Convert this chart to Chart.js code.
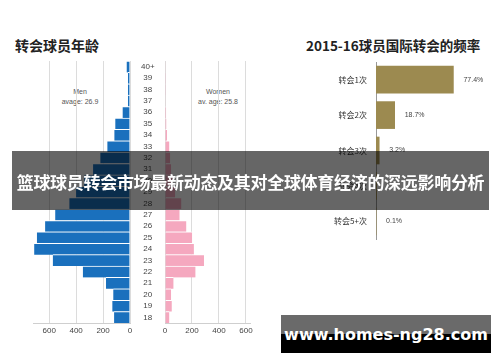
<!DOCTYPE html>
<html>
<head>
<meta charset="utf-8">
<script src="https://cdn.jsdelivr.net/npm/chart.js@4"></script>
<style>
  body { margin: 0; background: #fff; }
  #wrap { position: relative; width: 500px; height: 362px; overflow: hidden; background: #fff;
          font-family: "Noto Sans CJK SC", "Noto Sans", sans-serif; }
  canvas { position: absolute; }
  .title { position: absolute; font-weight: bold; color: #222; white-space: nowrap; }
  .note { position: absolute; font-family: "Liberation Sans Narrow", "Liberation Sans", sans-serif;
          font-size: 7px; color: #555; text-align: center; line-height: 10px; width: 60px; }
  #banner { position: absolute; left: 12px; top: 151px; width: 477px; height: 59px;
            background: rgba(0,0,0,0.6); color: #fff; font-weight: bold; font-size: 17px;
            text-align: center; line-height: 62px; white-space: nowrap; letter-spacing: -0.3px; }
  #mark { position: absolute; left: 281px; top: 315px; width: 210px; height: 38px;
          background: linear-gradient(#6a6a6a 0, #6a6a6a 50%, #000 50%, #000 100%);
          color: #fff; font-family: "DejaVu Sans", sans-serif; font-weight: bold; font-size: 16px;
          text-align: center; line-height: 40px; }
</style>
</head>
<body>
<div id="wrap">
  <div class="title" style="left:15px; top:35px; font-size:14px;">转会球员年龄</div>
  <div class="title" style="left:306px; top:35px; font-size:13.5px;">2015-16球员国际转会的频率</div>
  <div class="note" style="left:50px; top:87px;">Men<br>avage: 26.9</div>
  <div class="note" style="left:188px; top:87px;">Women<br>av. age: 25.8</div>

  <canvas id="menChart" width="165" height="340" style="left:0; top:0;"></canvas>
  <canvas id="womenChart" width="110" height="340" style="left:155px; top:0;"></canvas>
  <canvas id="transferChart" width="250" height="260" style="left:250px; top:0;"></canvas>

  <div id="banner">篮球球员转会市场最新动态及其对全球体育经济的深远影响分析</div>
  <div id="mark">www.homes-ng28.com</div>
</div>

<script>
// =================== data ===================

const ages = ['40+', '39', '38', '37', '36', '35', '34', '33', '32', '31', '30', '29',
              '28', '27', '26', '25', '24', '23', '22', '21', '20', '19', '18'];
const menCounts = [25, 15, 15, 15, 55, 109, 116, 168, 220, 274, 340, 400,
                   450, 555, 630, 691, 711, 573, 350, 178, 124, 131, 118];
const womenCounts = [3, 2, 2, 3, 8, 10, 15, 32, 38, 45, 55, 75,
                     121, 108, 158, 201, 214, 289, 226, 63, 45, 50, 32];
const ageTicks = [0, 200, 400, 600];

const transferLabels = ['转会1次', '转会2次', '转会3次', '转会4次', '转会5+次'];
const transferShares = [77.4, 18.7, 3.2, 0.6, 0.1];

const MEN_BLUE = '#1a70bd';
const WOMEN_PINK = '#f5a8bf';
const GOLD = '#9c8a50';
const GRID = '#dcdcdc';
const smallFont = { family: '"Liberation Sans Narrow", "Liberation Sans", sans-serif', size: 8 };

// fixed tick set for both halves of the pyramid
function fixTicks(scale) {
  scale.ticks = ageTicks.map(v => ({ value: v }));
}

// =================== men (left half) ===================
new Chart(document.getElementById('menChart'), {
  type: 'bar',
  data: {
    labels: ages,
    datasets: [{
      data: menCounts,
      backgroundColor: MEN_BLUE,
      borderColor: '#fff',
      borderWidth: { top: 1, bottom: 0, left: 0, right: 0 },
      categoryPercentage: 1,
      barPercentage: 1
    }]
  },
  options: {
    indexAxis: 'y',
    responsive: false,
    animation: false,
    layout: { padding: { left: 33, top: 61, bottom: 1, right: 0 } },
    plugins: { legend: { display: false }, tooltip: { enabled: false } },
    scales: {
      x: {
        reverse: true,
        min: 0,
        max: 720,
        afterBuildTicks: fixTicks,
        afterFit: s => { s.height = 16; },
        grid: { color: GRID, drawTicks: false },
        border: { display: true, color: '#cfcfcf' },
        ticks: { font: smallFont, color: '#444', padding: 3 }
      },
      y: {
        position: 'right',
        afterFit: s => { s.width = 35; },
        grid: { display: false, drawTicks: false },
        border: { display: false },
        ticks: { font: smallFont, color: '#444', padding: 11, crossAlign: 'center', autoSkip: false }
      }
    }
  }
});

// =================== women (right half) ===================
new Chart(document.getElementById('womenChart'), {
  type: 'bar',
  data: {
    labels: ages,
    datasets: [{
      data: womenCounts,
      backgroundColor: WOMEN_PINK,
      borderColor: '#fff',
      borderWidth: { top: 1, bottom: 0, left: 0, right: 0 },
      categoryPercentage: 1,
      barPercentage: 1
    }]
  },
  options: {
    indexAxis: 'y',
    responsive: false,
    animation: false,
    layout: { padding: { left: 10, top: 61, bottom: 1, right: 15 } },
    plugins: { legend: { display: false }, tooltip: { enabled: false } },
    scales: {
      x: {
        min: 0,
        max: 630,
        afterBuildTicks: fixTicks,
        afterFit: s => { s.height = 16; },
        grid: { color: GRID, drawTicks: false },
        border: { display: true, color: '#cfcfcf' },
        ticks: { font: smallFont, color: '#444', padding: 3 }
      },
      y: { display: false }
    }
  }
});

// =================== transfer frequency ===================

// percentage text just right of each bar
const valueLabels = {
  id: 'valueLabels',
  afterDatasetsDraw(chart) {
    const ctx = chart.ctx;
    const meta = chart.getDatasetMeta(0);
    ctx.save();
    ctx.font = '7px "Liberation Sans Narrow", "Liberation Sans", sans-serif';
    ctx.fillStyle = '#444';
    ctx.textBaseline = 'middle';
    meta.data.forEach((bar, i) => {
      if (i === 3) return; // hidden under the banner in the original
      ctx.fillText(transferShares[i].toFixed(1).replace('.0', '') + '%', bar.x + 10, bar.y);
    });
    ctx.restore();
  }
};

new Chart(document.getElementById('transferChart'), {
  type: 'bar',
  data: {
    labels: transferLabels,
    datasets: [{
      data: transferShares,
      backgroundColor: GOLD,
      barThickness: 27
    }]
  },
  options: {
    indexAxis: 'y',
    responsive: false,
    animation: false,
    layout: { padding: { left: 0, top: 62, bottom: 21, right: 24 } },
    plugins: { legend: { display: false }, tooltip: { enabled: false } },
    scales: {
      x: { display: false, min: 0, max: 100 },
      y: {
        afterFit: s => { s.width = 126; },
        grid: { display: false, drawTicks: false },
        border: { display: true, color: '#999', width: 1 },
        ticks: {
          font: { family: '"Noto Sans CJK SC", sans-serif', size: 8 },
          color: '#333',
          padding: 9
        }
      }
    }
  },
  plugins: [valueLabels]
});
</script>
</body>
</html>
